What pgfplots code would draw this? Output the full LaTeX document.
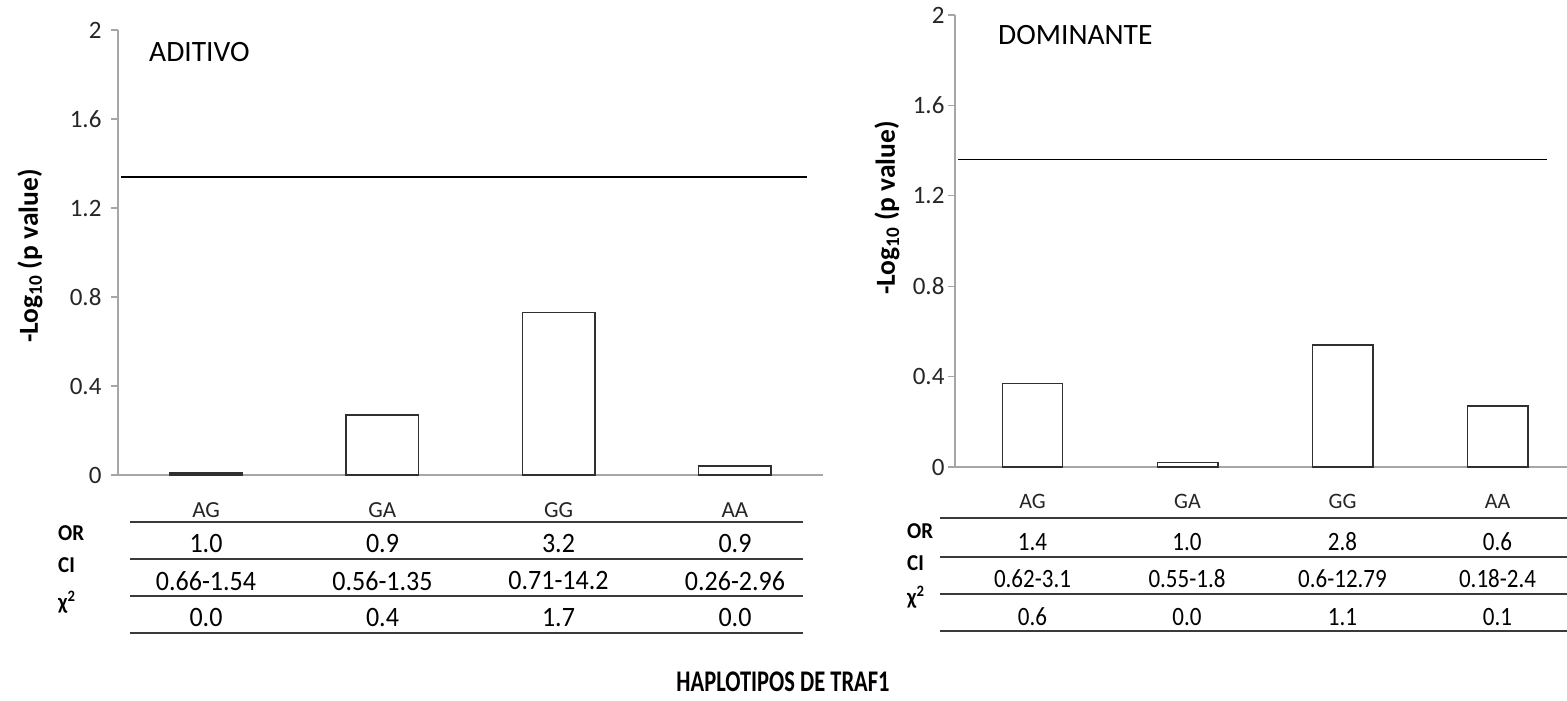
\documentclass[border=0pt]{standalone}
\usepackage{fontspec}
\setmainfont{Carlito}
\usepackage{graphicx}
\usepackage{pgfplots}
\pgfplotsset{compat=1.18}

\definecolor{axisgray}{HTML}{A6A6A6}
\definecolor{rulegray}{HTML}{3A3A3A}
\definecolor{barline}{HTML}{303030}

\newcommand{\fs}[1]{\fontsize{#1}{#1}\selectfont}
\newcommand{\tcell}[1]{\scalebox{1}[1.08]{#1}}

\pgfplotsset{
  haplo/.style={
    scale only axis,
    ymin=0, ymax=2,
    ytick={0,0.4,0.8,1.2,1.6,2},
    yticklabels={0,0.4,0.8,1.2,1.6,2},
    xtick={0,1,2,3},
    xticklabels={AG,GA,GG,AA},
    axis x line*=bottom,
    axis y line*=left,
    axis line style={axisgray, line width=1.4pt, -},
    tick align=outside,
    major tick length=7pt,
    ytick style={axisgray, line width=1.2pt},
    xtick style={draw=none},
    yticklabel style={font=\fs{25}, text=black!85},
    xticklabel style={text=black!85, yshift=-17pt},
    /pgf/number format/assume math mode=true,
    ylabel={\bfseries -Log\textsubscript{10} (p value)},
    ylabel style={font=\fs{27.5}, anchor=center},
    clip=false,
  },
  haplobar/.style={ybar, draw=barline, fill=white, line width=1.5pt},
  cutoff/.style={sharp plot, black, line width=1.7pt, mark=none},
}

\begin{document}
\begin{tikzpicture}[x=1pt, y=1pt]
\path[use as bounding box, fill=white] (0pt,0pt) rectangle (1567pt,701pt);

% additive model
\begin{axis}[haplo,
  at={(118pt,226pt)}, anchor=south west,
  width=705pt, height=445pt,
  xmin=-0.5, xmax=3.5,
  ylabel style={at={(axis description cs:-0.1248,0.492)}},
  yticklabel style={xshift=-6pt},
  xticklabel style={font=\fs{23}},
]
\addplot[haplobar, bar width=0.41] coordinates {(0,0.01) (1,0.27) (2,0.73) (3,0.04)};
\addplot[cutoff] coordinates {(-0.483,1.34) (3.41,1.34)};
\end{axis}

% dominant model
\begin{axis}[haplo,
  at={(955pt,234pt)}, anchor=south west,
  width=612pt, height=452pt,
  xmin=-0.5, xmax=3.448,
  ylabel style={at={(axis description cs:-0.111,0.573)}},
  yticklabel style={xshift=0pt},
  xticklabel style={font=\fs{22}},
]
\addplot[haplobar, bar width=0.39] coordinates {(0,0.37) (1,0.02) (2,0.54) (3,0.27)};
\addplot[cutoff] coordinates {(-0.48,1.36) (3.32,1.36)};
\end{axis}

% panel titles
\node[anchor=west, font=\fs{29.5}, inner sep=0] at (149pt,649pt) {ADITIVO};
\node[anchor=west, font=\fs{29.5}, inner sep=0] at (998pt,666pt) {DOMINANTE};

% statistics table, additive
\foreach \yy in {179,142,105,68}
  \draw[rulegray, line width=2.6pt] (130pt,\yy pt) -- (803pt,\yy pt);
\foreach \xx/\a/\b/\c in {206/1.0/0.66-1.54/0.0, 382.5/0.9/0.56-1.35/0.4,
                          558.5/3.2/0.71-14.2/1.7, 735/0.9/0.26-2.96/0.0}{
  \node[font=\fs{26}] at (\xx pt,157pt) {\tcell{\a}};
  \node[font=\fs{26}] at (\xx pt,120pt) {\tcell{\b}};
  \node[font=\fs{26}] at (\xx pt,83pt)  {\tcell{\c}};
}
\node[anchor=west, font=\bfseries\fs{21}, inner sep=0] at (58pt,168pt) {\tcell{OR}};
\node[anchor=west, font=\bfseries\fs{21}, inner sep=0] at (58pt,136pt) {\tcell{CI}};
\node[anchor=west, font=\bfseries\fs{21}, inner sep=0] at (58pt,99pt)  {\tcell{χ\textsuperscript{2}}};

% statistics table, dominant
\foreach \yy in {183,144,107,70}
  \draw[rulegray, line width=2.6pt] (940pt,\yy pt) -- (1567pt,\yy pt);
\foreach \xx/\a/\b/\c in {1032.5/1.4/0.62-3.1/0.6, 1187/1.0/0.55-1.8/0.0,
                          1342.5/2.8/0.6-12.79/1.1, 1497.5/0.6/0.18-2.4/0.1}{
  \node[font=\fs{23}] at (\xx pt,159pt) {\scalebox{1}[1.15]{\a}};
  \node[font=\fs{23}] at (\xx pt,122pt) {\scalebox{1}[1.15]{\b}};
  \node[font=\fs{23}] at (\xx pt,84pt)  {\scalebox{1}[1.15]{\c}};
}
\node[anchor=west, font=\bfseries\fs{21}, inner sep=0] at (907pt,170pt) {\tcell{OR}};
\node[anchor=west, font=\bfseries\fs{21}, inner sep=0] at (907pt,138pt) {\tcell{CI}};
\node[anchor=west, font=\bfseries\fs{21}, inner sep=0] at (907pt,104pt) {\tcell{χ\textsuperscript{2}}};

% common caption
\node[font=\bfseries\fs{30}] at (783pt,19pt) {\scalebox{0.75}[1]{HAPLOTIPOS DE TRAF1}};
\end{tikzpicture}
\end{document}
